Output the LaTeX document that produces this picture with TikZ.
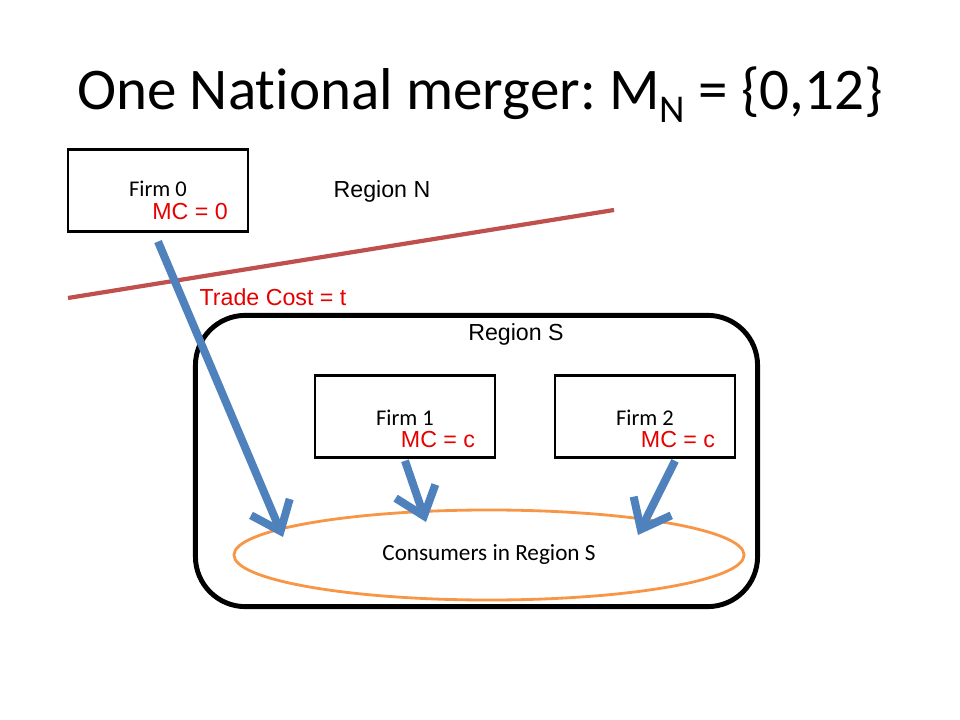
\documentclass[tikz,border=0pt]{standalone}
\usepackage{fontspec}
\setmainfont{Carlito}[Ligatures=NoCommon]
\newfontfamily\arialfont{Liberation Sans}
\usetikzlibrary{arrows.meta,shapes.geometric}
\definecolor{flowblue}{RGB}{79,129,189}
\definecolor{borderred}{RGB}{192,80,77}
\definecolor{mcred}{RGB}{230,0,0}
\definecolor{consorange}{RGB}{247,150,70}
\frenchspacing

\begin{document}
\begin{tikzpicture}[
    x=0.025cm, y=-0.025cm,
    firmbox/.style={rectangle,draw,line width=1.8pt,minimum width=4.5cm,minimum height=2.05cm},
    firmname/.style={font=\fontsize{16}{18}\selectfont},
    mclabel/.style={text=mcred,font=\arialfont\fontsize{16.5}{19}\selectfont},
    regionlabel/.style={font=\arialfont\fontsize{16.5}{19}\selectfont},
    flow/.style={-{Straight Barb[length=0.65cm,width=1.05cm]},line width=5.7pt,draw=flowblue}
]
\useasboundingbox (0,0) rectangle (960,720);

% Title
\node (title) at (480,95) {\fontsize{42}{50}\selectfont One National merger: M\raisebox{-0.22em}{\fontsize{28}{30}\selectfont N} = \{0,12\}};

% Region N and the border
\node[regionlabel] (regionN) at (382,192) {Region N};
\coordinate (borderW) at (68,298);
\coordinate (borderE) at (614,210);
\draw[borderred,line width=3pt] (borderW) -- (borderE);
\node[mclabel] (tradecost) at (273,297) {Trade Cost = t};

% Region S
\node[rectangle,draw,line width=3.5pt,rounded corners=1.25cm,minimum width=14.05cm,minimum height=7.28cm] (regionS) at (476.5,461) {};
\node[regionlabel] (regionSname) at (516,335) {Region S};

% Firms
\node[firmbox] (firm0) at (158,190.5) {};
\node[firmname] (firm0name) at (158,189) {Firm 0};
\node[mclabel] (firm0mc) at (190,212) {MC = 0};

\node[firmbox] (firm1) at (405,416.5) {};
\node[firmname] (firm1name) at (405,418) {Firm 1};
\node[mclabel] (firm1mc) at (438,440) {MC = c};

\node[firmbox] (firm2) at (645,416.5) {};
\node[firmname] (firm2name) at (645,418) {Firm 2};
\node[mclabel] (firm2mc) at (678,440) {MC = c};

% Consumers
\node[ellipse,draw=consorange,line width=2pt,minimum width=12.75cm,minimum height=2.25cm,inner sep=0pt,font=\fontsize{16.5}{19}\selectfont] (consumers) at (489,555) {Consumers in Region S};

% Sales flows
\coordinate (tip0) at (283,537);
\coordinate (tip1) at (426,522);
\coordinate (tip2) at (638,535);
\draw[flow] ([yshift=-0.22cm]firm0.south) -- (tip0);
\draw[flow] ([yshift=-0.05cm]firm1.south) -- (tip1);
\draw[flow] ([xshift=0.75cm,yshift=-0.05cm]firm2.south) -- (tip2);

\end{tikzpicture}
\end{document}
